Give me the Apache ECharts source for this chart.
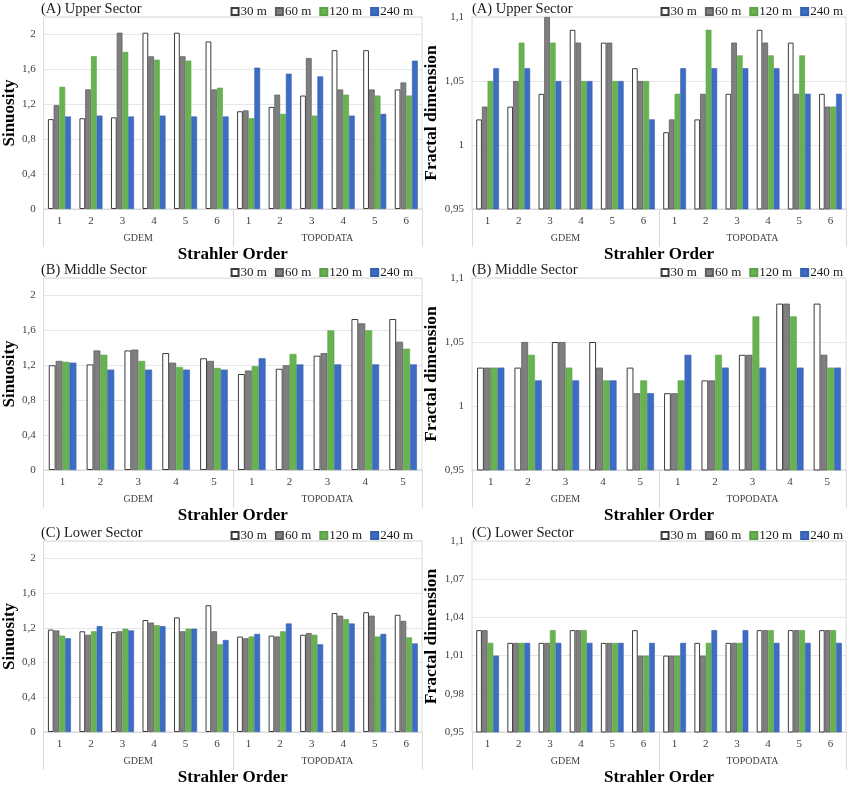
<!DOCTYPE html>
<html>
<head>
<meta charset="utf-8">
<script src="https://cdn.jsdelivr.net/npm/echarts@6/dist/echarts.min.js"></script>
<style>html,body{margin:0;padding:0;background:#fff}#c{width:850px;height:787px}</style>
</head>
<body>
<div id="c"></div>
<script>
// ---------- data ----------
const seriesNames = ['30 m', '60 m', '120 m', '240 m'];
const groups = ['GDEM', 'TOPODATA'];
const orders6 = ['1', '2', '3', '4', '5', '6'];
const orders5 = ['1', '2', '3', '4', '5'];

// (A) Upper sector - sinuosity (GDEM 1-6, TOPODATA 1-6)
const sinA_30  = [1.03, 1.04, 1.05, 2.02, 2.02, 1.92, 1.12, 1.17, 1.30, 1.82, 1.82, 1.37];
const sinA_60  = [1.19, 1.37, 2.02, 1.75, 1.75, 1.37, 1.13, 1.31, 1.73, 1.37, 1.37, 1.45];
const sinA_120 = [1.40, 1.75, 1.80, 1.71, 1.70, 1.39, 1.04, 1.09, 1.07, 1.31, 1.30, 1.30];
const sinA_240 = [1.06, 1.07, 1.06, 1.07, 1.06, 1.06, 1.62, 1.55, 1.52, 1.07, 1.09, 1.70];
// (A) Upper sector - fractal dimension
const fdA_30  = [1.02, 1.03, 1.04, 1.09, 1.08, 1.06, 1.01, 1.02, 1.04, 1.09, 1.08, 1.04];
const fdA_60  = [1.03, 1.05, 1.10, 1.08, 1.08, 1.05, 1.02, 1.04, 1.08, 1.08, 1.04, 1.03];
const fdA_120 = [1.05, 1.08, 1.08, 1.05, 1.05, 1.05, 1.04, 1.09, 1.07, 1.07, 1.07, 1.03];
const fdA_240 = [1.06, 1.06, 1.05, 1.05, 1.05, 1.02, 1.06, 1.06, 1.06, 1.06, 1.04, 1.04];
// (B) Middle sector - sinuosity (GDEM 1-5, TOPODATA 1-5)
const sinB_30  = [1.20, 1.21, 1.37, 1.34, 1.28, 1.10, 1.16, 1.31, 1.73, 1.73];
const sinB_60  = [1.25, 1.37, 1.38, 1.23, 1.25, 1.14, 1.20, 1.34, 1.68, 1.47];
const sinB_120 = [1.24, 1.32, 1.25, 1.18, 1.17, 1.19, 1.33, 1.60, 1.60, 1.39];
const sinB_240 = [1.23, 1.15, 1.15, 1.15, 1.15, 1.28, 1.21, 1.21, 1.21, 1.21];
// (B) Middle sector - fractal dimension
const fdB_30  = [1.03, 1.03, 1.05, 1.05, 1.03, 1.01, 1.02, 1.04, 1.08, 1.08];
const fdB_60  = [1.03, 1.05, 1.05, 1.03, 1.01, 1.01, 1.02, 1.04, 1.08, 1.04];
const fdB_120 = [1.03, 1.04, 1.03, 1.02, 1.02, 1.02, 1.04, 1.07, 1.07, 1.03];
const fdB_240 = [1.03, 1.02, 1.02, 1.02, 1.01, 1.04, 1.03, 1.03, 1.03, 1.03];
// (C) Lower sector - sinuosity (GDEM 1-6, TOPODATA 1-6)
const sinC_30  = [1.18, 1.16, 1.15, 1.29, 1.32, 1.46, 1.10, 1.11, 1.12, 1.37, 1.38, 1.35];
const sinC_60  = [1.17, 1.12, 1.16, 1.26, 1.16, 1.16, 1.08, 1.10, 1.14, 1.34, 1.34, 1.28];
const sinC_120 = [1.11, 1.16, 1.19, 1.23, 1.19, 1.01, 1.10, 1.16, 1.12, 1.30, 1.10, 1.09];
const sinC_240 = [1.08, 1.22, 1.17, 1.22, 1.19, 1.06, 1.13, 1.25, 1.01, 1.25, 1.13, 1.02];
// (C) Lower sector - fractal dimension
const fdC_30  = [1.03, 1.02, 1.02, 1.03, 1.02, 1.03, 1.01, 1.02, 1.02, 1.03, 1.03, 1.03];
const fdC_60  = [1.03, 1.02, 1.02, 1.03, 1.02, 1.01, 1.01, 1.01, 1.02, 1.03, 1.03, 1.03];
const fdC_120 = [1.02, 1.02, 1.03, 1.03, 1.02, 1.01, 1.01, 1.02, 1.02, 1.03, 1.03, 1.03];
const fdC_240 = [1.01, 1.02, 1.02, 1.02, 1.02, 1.02, 1.02, 1.03, 1.03, 1.02, 1.02, 1.02];

// ---------- styling ----------
const SERIF = '"Liberation Serif", "Times New Roman", serif';
const barStyles = [
  { color: '#ffffff', borderColor: '#3c3c3c', borderWidth: 1 },
  { color: '#7f7f7f', borderColor: '#5e5e5e', borderWidth: 0.8 },
  { color: '#66b34f', borderColor: '#5aa245', borderWidth: 0.6 },
  { color: '#3c6cc3', borderColor: '#3560b0', borderWidth: 0.6 }
];

const panels = [
  { title: '(A) Upper Sector',  col: 0, row: 0, orders: orders6, kind: 'sin', data: [sinA_30, sinA_60, sinA_120, sinA_240] },
  { title: '(A) Upper Sector',  col: 1, row: 0, orders: orders6, kind: 'fd',  step: 0.05, data: [fdA_30, fdA_60, fdA_120, fdA_240] },
  { title: '(B) Middle Sector', col: 0, row: 1, orders: orders5, kind: 'sin', data: [sinB_30, sinB_60, sinB_120, sinB_240] },
  { title: '(B) Middle Sector', col: 1, row: 1, orders: orders5, kind: 'fd',  step: 0.05, data: [fdB_30, fdB_60, fdB_120, fdB_240] },
  { title: '(C) Lower Sector',  col: 0, row: 2, orders: orders6, kind: 'sin', data: [sinC_30, sinC_60, sinC_120, sinC_240] },
  { title: '(C) Lower Sector',  col: 1, row: 2, orders: orders6, kind: 'fd',  step: 0.03, data: [fdC_30, fdC_60, fdC_120, fdC_240] }
];

const rowTop = [17, 278, 541];
const plotH = 192;
const colLeft = [41, 472];
const colWidth = [381, 374];

const option = {
  animation: false,
  backgroundColor: '#fff',
  title: [], legend: [], grid: [], xAxis: [], yAxis: [], series: []
};

panels.forEach((p, i) => {
  const left = colLeft[p.col], top = rowTop[p.row], width = colWidth[p.col];
  const cats = [];
  groups.forEach(g => p.orders.forEach(o => cats.push(g + '|' + o)));

  option.title.push({
    text: p.title, left: left, top: top - 15, padding: 0,
    textStyle: { fontFamily: SERIF, fontSize: 14.5, fontWeight: 'normal', color: '#1a1a1a' }
  });

  option.grid.push({
    left: left, top: top, width: width, height: plotH,
    show: true, borderColor: '#d9d9d9', borderWidth: 1, backgroundColor: 'transparent'
  });

  // order labels
  option.xAxis.push({
    type: 'category', gridIndex: i, data: cats, position: 'bottom',
    axisLine: { show: true, lineStyle: { color: '#d9d9d9' } },
    axisTick: { show: false },
    axisLabel: { margin: 7, fontFamily: SERIF, fontSize: 11, color: '#404040',
      formatter: v => v.split('|')[1] }
  });
  // group labels + separators
  option.xAxis.push({
    type: 'category', gridIndex: i, data: groups, position: 'bottom',
    axisLine: { show: false },
    axisTick: { show: true, length: 38, lineStyle: { color: '#d9d9d9' } },
    axisLabel: { margin: 24, fontFamily: SERIF, fontSize: 10, color: '#404040' },
    name: 'Strahler Order', nameLocation: 'middle', nameGap: 37,
    nameTextStyle: { fontFamily: SERIF, fontSize: 17, fontWeight: 'bold', color: '#000' }
  });

  const isSin = p.kind === 'sin';
  option.yAxis.push({
    type: 'value', gridIndex: i,
    min: isSin ? 0 : 0.95, max: isSin ? 2.2 : 1.1, interval: isSin ? 0.4 : p.step,
    name: isSin ? 'Sinuosity' : 'Fractal dimension',
    nameLocation: 'middle', nameGap: isSin ? 21 : 19,
    nameTextStyle: { fontFamily: SERIF, fontSize: isSin ? 17 : 17.5, fontWeight: 'bold', color: '#000' },
    axisLine: { show: false }, axisTick: { show: false },
    splitLine: { lineStyle: { color: '#e6e6e6' } },
    axisLabel: {
      fontFamily: SERIF, fontSize: 11, color: '#404040', margin: 8,
      showMaxLabel: !isSin,
      formatter: v => String(+v.toFixed(2)).replace('.', ',')
    }
  });

  option.legend.push({
    data: seriesNames.map((n, k) => n + '#' + i),
    formatter: n => n.split('#')[0],
    right: p.col === 0 ? 432 : 2, top: top - 17,
    icon: 'rect', itemWidth: 7, itemHeight: 7, itemGap: 8,
    textStyle: { fontFamily: SERIF, fontSize: 13, color: '#1a1a1a', padding: [0, 0, 0, -3] }
  });

  p.data.forEach((arr, k) => {
    option.series.push({
      type: 'bar', name: seriesNames[k] + '#' + i,
      xAxisIndex: 2 * i, yAxisIndex: i,
      data: arr,
      barGap: '0%', barCategoryGap: '27%',
      itemStyle: barStyles[k]
    });
  });
});

const chart = echarts.init(document.getElementById('c'), null, { renderer: 'canvas' });
chart.setOption(option);
</script>
</body>
</html>
